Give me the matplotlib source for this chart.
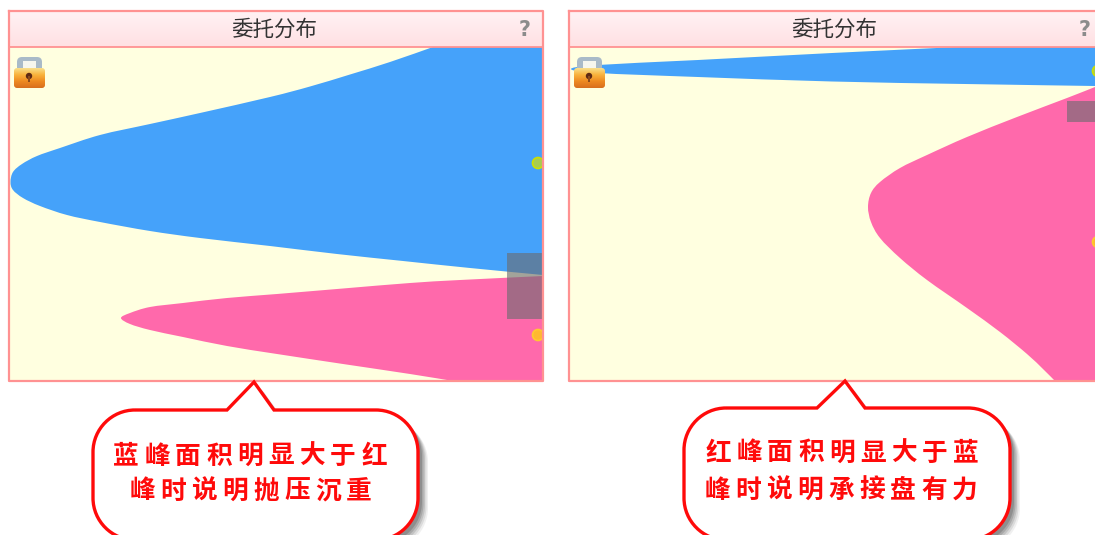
"""Two order-distribution panels with callouts, drawn in picture pixel coordinates."""

import matplotlib
matplotlib.use("Agg")
import matplotlib.pyplot as plt
import numpy as np
from matplotlib.colors import LinearSegmentedColormap
from matplotlib.patches import FancyBboxPatch, PathPatch, Circle, Rectangle
from matplotlib.path import Path

plt.rcParams["font.family"] = ["Noto Sans CJK SC", "DejaVu Sans"]

TITLE = "委托分布"

# outlines: (depth edge x, price y), top to bottom
LEFT_BLUE_X = [433, 390, 350, 310, 270, 200, 150, 100, 60, 37, 22, 13, 10.5, 13, 23, 40, 67, 100, 150, 200, 270, 337, 403, 470, 543]
LEFT_BLUE_Y = [47, 62, 74.5, 86.5, 97, 113, 124, 135, 148, 156, 164, 172, 182, 190, 198, 206, 215, 222, 231, 238, 246, 254, 261, 268, 275]
LEFT_PINK_X = [543, 460, 410, 343, 277, 227, 183, 150, 130, 121, 130, 150, 183, 227, 277, 343, 410, 453]
LEFT_PINK_Y = [276, 280, 283, 288.5, 294, 298, 303, 307, 313, 318, 324, 330, 337, 346, 354, 364, 374, 381]

RIGHT_BLUE_X = [958, 832, 698, 598, 571, 598, 698, 832, 965, 1095]
RIGHT_BLUE_Y = [47, 53, 60, 65, 69, 73, 77, 81.5, 84, 86]
RIGHT_PINK_X = [1095, 1067, 1017, 967, 927, 900, 880, 871, 868, 871, 880, 900, 927, 967, 1000, 1027, 1043, 1055]
RIGHT_PINK_Y = [87, 98, 117, 137, 155, 168, 182, 193, 207, 222, 238, 258, 280, 308, 332, 354, 369, 381]

CALLOUT_LEFT = ["蓝峰面积明显大于红", "峰时说明抛压沉重"]
CALLOUT_RIGHT = ["红峰面积明显大于蓝", "峰时说明承接盘有力"]

BLUE = "#45A2FA"
PINK = "#FF69AB"
CREAM = "#FFFFE0"
BORDER = "#FF9292"
RED = "#FF0A0A"

fig = plt.figure(figsize=(10.95, 5.35), dpi=100)
ax = fig.add_axes([0, 0, 1, 1])
ax.set_xlim(0, 1095)
ax.set_ylim(535, 0)
ax.axis("off")


def smooth_region(xs, ys, edge_x):
    # curve through the read points (Catmull-Rom as beziers), closed along the panel edge
    pts = np.column_stack([xs, ys]).astype(float)
    verts = [pts[0]]
    codes = [Path.MOVETO]
    for i in range(len(pts) - 1):
        p0 = pts[max(i - 1, 0)]
        p1 = pts[i]
        p2 = pts[i + 1]
        p3 = pts[min(i + 2, len(pts) - 1)]
        verts += [p1 + (p2 - p0) / 6, p2 - (p3 - p1) / 6, p2]
        codes += [Path.CURVE4] * 3
    verts += [(edge_x, pts[-1, 1]), (edge_x, pts[0, 1]), pts[0]]
    codes += [Path.LINETO, Path.LINETO, Path.CLOSEPOLY]
    return Path(verts, codes)


def draw_lock(x, y):
    # padlock icon, x/y = top left of the 31x31 icon
    ax.add_patch(FancyBboxPatch((x + 3, y), 25, 16, boxstyle="round,pad=0,rounding_size=5",
                                fc="#A9BAC8", ec="none", zorder=6))
    ax.add_patch(Rectangle((x + 9, y + 4), 13, 7, fc="#F6F6EE", ec="none", zorder=6))
    grad = np.linspace(0, 1, 32)[:, None]
    cmap = LinearSegmentedColormap.from_list("lock", ["#F8DE8A", "#F9B23C", "#EE8A22", "#D9701E"])
    im = ax.imshow(grad, extent=(x, x + 31, y + 31, y + 11), cmap=cmap, aspect="auto", zorder=7)
    clip = FancyBboxPatch((x, y + 11), 31, 20, boxstyle="round,pad=0,rounding_size=3",
                          fc="none", ec="none", transform=ax.transData)
    ax.add_patch(clip)
    im.set_clip_path(clip)
    ax.add_patch(Circle((x + 15, y + 19), 3.2, fc="#5E2A14", ec="none", zorder=8))
    ax.add_patch(Rectangle((x + 14.2, y + 19), 1.6, 6, fc="#8A4A1C", ec="none", zorder=8))


def draw_panel(x0, x1, blue_x, blue_y, pink_x, pink_y, dots, shade):
    y0, yh, y1 = 11, 47, 381
    ax.add_patch(Rectangle((x0, yh), x1 - x0, y1 - yh, fc=CREAM, ec="none", zorder=1))
    clip = Rectangle((x0, yh), x1 - x0, y1 - yh, transform=ax.transData)
    for xs, ys, col in [(blue_x, blue_y, BLUE), (pink_x, pink_y, PINK)]:
        region = PathPatch(smooth_region(xs, ys, x1), fc=col, ec="none", zorder=2)
        ax.add_patch(region)
        region.set_clip_path(clip)

    grad = np.linspace(0, 1, 32)[:, None]
    cmap = LinearSegmentedColormap.from_list("head", ["#FFF2F4", "#FFE0E3"])
    ax.imshow(grad, extent=(x0, x1, yh, y0), cmap=cmap, aspect="auto", zorder=1)

    for (cx, cy, fc, ec) in dots:
        c = Circle((cx, cy), 5.5, fc=fc, ec=ec, lw=1.2, zorder=3)
        ax.add_patch(c)
        c.set_clip_path(clip)
    ax.add_patch(Rectangle(shade[:2], shade[2], shade[3], fc="#6B6B70", alpha=0.62, ec="none", zorder=4))

    ax.plot([x0, x1, x1, x0, x0], [y0, y0, y1, y1, y0], color=BORDER, lw=1.6, zorder=5)
    ax.plot([x0, x1], [yh, yh], color=BORDER, lw=1.3, zorder=5)

    ax.text(x0 + 265, 30, TITLE, fontsize=15.5, color="#333333", ha="center", va="center", zorder=6)
    ax.text(x0 + 516, 30, "?", fontsize=15, fontweight="bold", family="DejaVu Sans", color="#8C8C8C",
            ha="center", va="center", zorder=6)
    draw_lock(x0 + 5, 57)


def bubble_path(l, r, t, b, bl, tip, br, tip_y, rad):
    k = rad * 0.45
    v = [(l + rad, t), (bl, t), (tip, tip_y), (br, t), (r - rad, t),
         (r - k, t), (r, t + k), (r, t + rad),
         (r, b - rad),
         (r, b - k), (r - k, b), (r - rad, b),
         (l + rad, b),
         (l + k, b), (l, b - k), (l, b - rad),
         (l, t + rad),
         (l, t + k), (l + k, t), (l + rad, t)]
    c = [Path.MOVETO, Path.LINETO, Path.LINETO, Path.LINETO, Path.LINETO,
         Path.CURVE4, Path.CURVE4, Path.CURVE4,
         Path.LINETO,
         Path.CURVE4, Path.CURVE4, Path.CURVE4,
         Path.LINETO,
         Path.CURVE4, Path.CURVE4, Path.CURVE4,
         Path.LINETO,
         Path.CURVE4, Path.CURVE4, Path.CURVE4]
    return Path(v, c)


def draw_callout(l, r, t, b, bl, tip, br, tip_y, lines, starts, ys):
    # soft shadow
    for off, alpha in zip([10, 8.5, 7, 5.5, 4], [0.08, 0.12, 0.16, 0.2, 0.25]):
        ax.add_patch(PathPatch(bubble_path(l + off, r + off, t + off, b + off, bl + off, tip + off, br + off, tip_y + off, 42),
                               fc="#444444", ec="none", alpha=alpha, zorder=7))
    ax.add_patch(PathPatch(bubble_path(l, r, t, b, bl, tip, br, tip_y, 42), fc="white", ec=RED, lw=2.4, zorder=8))
    for line, sx, y in zip(lines, starts, ys):
        for i, ch in enumerate(line):
            ax.text(sx + i * 31.0, y, ch, fontsize=18.5, fontweight="bold", color=RED,
                    ha="center", va="center", zorder=9)


draw_panel(9, 543, LEFT_BLUE_X, LEFT_BLUE_Y, LEFT_PINK_X, LEFT_PINK_Y,
           [(538, 163, "#A8CC50", "#CCE000"), (538, 335, "#FFB830", "#FFC92E")], (507, 253, 35, 66))
draw_panel(569, 1103, RIGHT_BLUE_X, RIGHT_BLUE_Y, RIGHT_PINK_X, RIGHT_PINK_Y,
           [(1098, 71, "#A8CC50", "#CCE000"), (1098, 242, "#FFB830", "#FFC92E")], (1067, 101, 36, 21))

draw_callout(93, 418, 410, 540, 227, 254, 274, 382, CALLOUT_LEFT, [126, 142], [456, 491])
draw_callout(684, 1010, 408, 540, 817, 845, 865, 381, CALLOUT_RIGHT, [718, 717], [453, 490])

ax.set_xlim(0, 1095)
ax.set_ylim(535, 0)
fig.savefig("out.png", dpi=100, facecolor="white")
